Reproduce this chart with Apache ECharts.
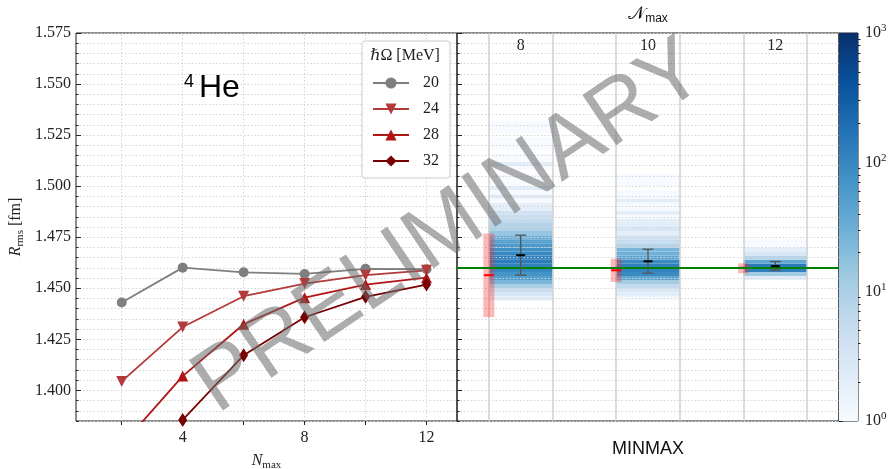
<!DOCTYPE html>
<html>
<head>
<meta charset="utf-8">
<script src="https://cdn.jsdelivr.net/npm/echarts@6/dist/echarts.min.js"></script>
<style>
  html, body { margin: 0; padding: 0; background: #fff; }
  #chart { width: 893px; height: 469px; }
</style>
</head>
<body>
<div id="chart"></div>
<script>
const SERIF = '"Liberation Serif", "DejaVu Serif", serif';
const SANS = '"Liberation Sans", Arial, sans-serif';

// ---- left panel: R_rms versus N_max for four oscillator frequencies ----
const nmax = [2, 4, 6, 8, 10, 12];
const hwNames = ['20', '24', '28', '32'];
const rms20 = [1.4430, 1.4601, 1.4578, 1.4570, 1.4595, 1.4593];
const rms24 = [1.4044, 1.4310, 1.4461, 1.4523, 1.4564, 1.4588];
const rms28 = [1.3732, 1.4070, 1.4324, 1.4454, 1.4518, 1.4552];
const rms32 = [1.3350, 1.3855, 1.4172, 1.4358, 1.4458, 1.4518];
const nmaxTickValues = [2, 4, 6, 8, 10, 12];
const nmaxLabelValues = [4, 8, 12];
const radiusMajorTicks = [1.400, 1.425, 1.450, 1.475, 1.500, 1.525, 1.550, 1.575];

// ---- right panel: MINMAX extrapolation per model space ----
const mmNmax = ['8', '10', '12'];
const mmSlot = [1, 3, 5];                       // slot centre on the panel axis
const slotEdges = [0.5, 1.5, 2.5, 3.5, 4.5, 5.5];
const refRadius = 1.4598;
const minmaxCenter = [1.4564, 1.4588, 1.4600];
const minmaxLow    = [1.4359, 1.4531, 1.4573];
const minmaxHigh   = [1.4768, 1.4645, 1.4622];
const fitCenter = [1.4662, 1.4632, 1.4608];
const fitLow    = [1.4564, 1.4574, 1.4588];
const fitHigh   = [1.4760, 1.4691, 1.4631];

// histograms of extrapolated radii (bin width 0.002 fm)
const binWidth = 0.002;
const histStart = [1.444, 1.444, 1.454];
const hist8 = [2, 3, 5, 10, 25, 50, 70, 100, 120, 130, 120, 100, 80, 60, 45, 30, 15, 9, 8, 6,
               5, 4, 2, 2, 1, 2, 1, 2, 1, 1, 1, 0, 1, 2, 1, 1, 0, 1, 1, 1, 0, 1, 1, 1, 0];
const hist10 = [1, 2, 3, 6, 12, 40, 90, 110, 120, 90, 40, 30, 25, 8, 5, 4, 2, 3, 2, 2,
                1, 2, 1, 1, 2, 1, 1, 0, 1, 1, 1];
const hist12 = [2, 12, 120, 140, 40, 8, 3, 2, 1, 1];
const histCounts = [hist8, hist10, hist12];

// colour bar
const countRange = [1, 1000];
const countMinorTicks = [2, 3, 4, 5, 6, 7, 8, 9, 20, 30, 40, 50, 60, 70, 80, 90,
                         200, 300, 400, 500, 600, 700, 800, 900];

const BLUES = ['#f7fbff', '#deebf7', '#c6dbef', '#9ecae1', '#6baed6',
               '#4292c6', '#2171b5', '#08519c', '#08306b'];

const histData = [];
histCounts.forEach((counts, g) => {
  counts.forEach((c, i) => {
    if (c > 0) {
      const lo = histStart[g] + i * binWidth;
      histData.push([mmSlot[g], lo, lo + binWidth, Math.log10(c), c]);
    }
  });
});

const isMajor = v => Math.abs(v / 0.025 - Math.round(v / 0.025)) < 1e-6;
const dotted = { color: '#d4d4d4', width: 1, type: [1.5, 2] };

const chart = echarts.init(document.getElementById('chart'), null, { renderer: 'canvas' });

// a line carries the legend entry; a scatter layer on top draws the solid markers
const lineSeries = (name, values, color, symbol, rotate) => ({
  name, type: 'line', xAxisIndex: 0, yAxisIndex: 0,
  data: nmax.map((n, i) => [n, values[i]]),
  symbol, symbolSize: 0.01, symbolRotate: rotate || 0,
  lineStyle: { color, width: 1.8 },
  itemStyle: { color },
  z: 4, clip: true, animation: false
});
const markerSeries = (values, color, symbol, size, rotate) => ({
  type: 'scatter', xAxisIndex: 0, yAxisIndex: 0,
  data: nmax.map((n, i) => [n, values[i]]),
  symbol, symbolSize: size, symbolRotate: rotate || 0,
  itemStyle: { color, opacity: 1 },
  z: 5, clip: true, animation: false, silent: true
});

const radiusAxis = (gridIndex, withLabels, z) => ({
  type: 'value', gridIndex, position: 'left', min: 1.385, max: 1.575, interval: 0.005,
  z,
  axisLine: { show: false },
  axisTick: { show: true, inside: true, length: 2.5, lineStyle: { color: '#222' } },
  axisLabel: {
    show: withLabels, fontFamily: SERIF, fontSize: 16, color: '#222', margin: 5,
    formatter: v => (isMajor(v) ? v.toFixed(3) : '')
  },
  splitLine: { show: true, lineStyle: dotted }
});

const majorTickAxis = (gridIndex, z) => ({
  type: 'value', gridIndex, position: 'left', min: 1.385, max: 1.575, z,
  axisLine: { show: false },
  axisTick: { show: true, inside: true, length: 5, customValues: radiusMajorTicks, lineStyle: { color: '#222' } },
  axisLabel: { show: false },
  splitLine: { show: false }
});

const plainMarkLine = (z, lineStyle, data) => ({
  z, symbol: 'none', silent: true, animation: false, label: { show: false }, lineStyle, data
});

const option = {
  backgroundColor: '#fff',
  animation: false,
  grid: [
    { left: 76, top: 33, width: 381, height: 388, outerBoundsMode: 'none', containLabel: false,
      show: true, borderColor: '#1a1a1a', borderWidth: 1 },
    { left: 457, top: 33, width: 382, height: 388, outerBoundsMode: 'none', containLabel: false,
      show: true, borderColor: '#1a1a1a', borderWidth: 1 },
    { left: 839, top: 33, width: 19, height: 388, outerBoundsMode: 'none', containLabel: false,
      show: true, borderColor: '#1a1a1a', borderWidth: 1 }
  ],
  xAxis: [
    {
      type: 'value', gridIndex: 0, min: 0.5, max: 13,
      axisLine: { show: false },
      axisTick: { show: true, length: 4, customValues: nmaxTickValues, lineStyle: { color: '#222' } },
      axisLabel: { customValues: nmaxLabelValues, fontFamily: SERIF, fontSize: 16, color: '#222', margin: 9 },
      splitLine: { show: false },
      name: '{it|N}{sub|max}', nameLocation: 'middle', nameGap: 30,
      nameTextStyle: {
        rich: {
          it: { fontFamily: SERIF, fontStyle: 'italic', fontSize: 16, color: '#222', lineHeight: 20 },
          sub: { fontFamily: SERIF, fontSize: 11, color: '#222', verticalAlign: 'bottom', lineHeight: 15 }
        }
      }
    },
    {
      type: 'value', gridIndex: 1, min: 0, max: 6,
      axisLine: { show: false }, axisTick: { show: false }, axisLabel: { show: false },
      splitLine: { show: false },
      name: 'MINMAX', nameLocation: 'middle', nameGap: 19,
      nameTextStyle: { fontFamily: SANS, fontSize: 18, color: '#111' }
    },
    {
      type: 'value', gridIndex: 1, position: 'top', min: 0, max: 6, interval: 1,
      axisLine: { show: false }, axisTick: { show: false },
      axisLabel: {
        inside: true, margin: 5, fontFamily: SERIF, fontSize: 16, color: '#222',
        formatter: v => { const k = mmSlot.indexOf(v); return k >= 0 ? mmNmax[k] : ''; }
      },
      splitLine: { show: false },
      name: '{cal|𝒩}{sub|max}', nameLocation: 'middle', nameGap: 8,
      nameTextStyle: {
        rich: {
          cal: { fontFamily: '"DejaVu Sans", "DejaVu Serif", serif', fontSize: 18, color: '#111', lineHeight: 22 },
          sub: { fontFamily: SANS, fontSize: 12, color: '#111', verticalAlign: 'bottom', lineHeight: 17 }
        }
      }
    },
    { type: 'value', gridIndex: 2, min: 0, max: 1, show: false }
  ],
  yAxis: [
    Object.assign(radiusAxis(0, true, 0), {
      name: '{it|R}{sub|rms}{n| [fm]}', nameLocation: 'middle', nameGap: 50, nameRotate: 90,
      nameTextStyle: {
        rich: {
          it: { fontFamily: SERIF, fontStyle: 'italic', fontSize: 16, color: '#222', lineHeight: 20 },
          sub: { fontFamily: SERIF, fontSize: 11, color: '#222', verticalAlign: 'bottom', lineHeight: 15 },
          n: { fontFamily: SERIF, fontSize: 16, color: '#222', lineHeight: 20 }
        }
      }
    }),
    majorTickAxis(0, 0),
    radiusAxis(1, false, 3),
    majorTickAxis(1, 3),
    {
      type: 'log', gridIndex: 2, position: 'right', min: countRange[0], max: countRange[1], logBase: 10,
      axisLine: { show: false },
      axisTick: { show: true, length: 4, lineStyle: { color: '#222' } },
      axisLabel: {
        margin: 7, color: '#222',
        formatter: v => '{b|10}{s|' + Math.round(Math.log10(v)) + '}',
        rich: {
          b: { fontFamily: SERIF, fontSize: 16, color: '#222', lineHeight: 20 },
          s: { fontFamily: SERIF, fontSize: 11, color: '#222', verticalAlign: 'top', lineHeight: 12 }
        }
      },
      splitLine: { show: false }
    },
    {
      type: 'log', gridIndex: 2, position: 'right', min: countRange[0], max: countRange[1], logBase: 10,
      axisLine: { show: false },
      axisTick: { show: true, length: 2.5, customValues: countMinorTicks, lineStyle: { color: '#222' } },
      axisLabel: { show: false },
      splitLine: { show: false }
    }
  ],
  visualMap: [{
    type: 'continuous', show: false, seriesIndex: 10, dimension: 3,
    min: 0, max: 3, inRange: { color: BLUES }
  }],
  legend: {
    data: hwNames, orient: 'vertical', left: 362, top: 41,
    padding: [34, 11, 9, 10], itemWidth: 36, itemHeight: 14, itemGap: 10,
    backgroundColor: 'rgba(255,255,255,0.85)', borderColor: '#cccccc', borderWidth: 1, borderRadius: 3,
    textStyle: { fontFamily: SERIF, fontSize: 16, color: '#222', padding: [0, 0, 0, 9] }
  },
  graphic: [
    { type: 'text', x: 405, y: 56, z: 50,
      style: { text: 'ℏΩ [MeV]', fontFamily: SERIF, fontSize: 16, fill: '#222', align: 'center', verticalAlign: 'middle' } },
    { type: 'text', x: 184, y: 73, z: 50,
      style: { text: '4', fontFamily: SANS, fontSize: 18, fill: '#000', align: 'left', verticalAlign: 'top' } },
    { type: 'text', x: 199, y: 72, z: 50,
      style: { text: 'He', fontFamily: SANS, fontSize: 32, fill: '#000', align: 'left', verticalAlign: 'top' } },
    { type: 'text', x: 450, y: 228, z: 100, rotation: 34 * Math.PI / 180,
      style: { text: 'PRELIMINARY', fontFamily: SANS, fontSize: 88, fill: 'rgba(105,105,105,0.55)',
               align: 'center', verticalAlign: 'middle' } }
  ],
  series: [
    // vertical grid of the left panel
    { type: 'line', xAxisIndex: 0, yAxisIndex: 0, data: [], z: 1, silent: true,
      markLine: plainMarkLine(1, dotted, nmaxTickValues.map(v => ({ xAxis: v }))) },
    lineSeries(hwNames[0], rms20, '#7f7f7f', 'circle'),
    lineSeries(hwNames[1], rms24, '#b33a3a', 'triangle', 180),
    lineSeries(hwNames[2], rms28, '#b01515', 'triangle'),
    lineSeries(hwNames[3], rms32, '#780000', 'diamond'),
    markerSeries(rms20, '#7f7f7f', 'circle', 10),
    markerSeries(rms24, '#b33a3a', 'triangle', 11, 180),
    markerSeries(rms28, '#b01515', 'triangle', 11),
    markerSeries(rms32, '#780000', 'diamond', [9, 14]),
    // colour bar
    { type: 'custom', xAxisIndex: 3, yAxisIndex: 4, data: [[0, countRange[0], countRange[1]]], silent: true,
      renderItem: (params, api) => {
        const p1 = api.coord([0, api.value(2)]);
        const p2 = api.coord([1, api.value(1)]);
        return { type: 'rect', shape: { x: p1[0], y: p1[1], width: p2[0] - p1[0], height: p2[1] - p1[1] },
                 style: { fill: new echarts.graphic.LinearGradient(0, 1, 0, 0,
                   BLUES.map((c, i) => ({ offset: i / (BLUES.length - 1), color: c }))) } };
      } },
    // histograms
    { type: 'custom', xAxisIndex: 1, yAxisIndex: 2, data: histData, z: 2, silent: true, clip: true,
      encode: { x: 0, y: [1, 2] },
      renderItem: (params, api) => {
        const xc = api.value(0);
        const p1 = api.coord([xc - 0.5, api.value(2)]);
        const p2 = api.coord([xc + 0.5, api.value(1)]);
        return { type: 'rect', shape: { x: p1[0], y: p1[1], width: p2[0] - p1[0], height: p2[1] - p1[1] },
                 style: { fill: api.visual('color') } };
      } },
    // slot boundaries
    { type: 'line', xAxisIndex: 1, yAxisIndex: 2, data: [], z: 3, silent: true,
      markLine: plainMarkLine(3, { color: '#cfcfcf', width: 1.5, type: 'solid' },
                              slotEdges.map(v => ({ xAxis: v }))) },
    // MINMAX bands
    { type: 'custom', xAxisIndex: 1, yAxisIndex: 2, z: 4, silent: true, clip: true,
      data: mmSlot.map((s, g) => [s - 0.5, minmaxLow[g], minmaxHigh[g], minmaxCenter[g]]),
      renderItem: (params, api) => {
        const top = api.coord([api.value(0), api.value(2)]);
        const bot = api.coord([api.value(0), api.value(1)]);
        const mid = api.coord([api.value(0), api.value(3)]);
        return { type: 'group', children: [
          { type: 'rect', shape: { x: top[0] - 5.5, y: top[1], width: 11, height: bot[1] - top[1] },
            style: { fill: 'rgba(255,40,40,0.33)' } },
          { type: 'line', shape: { x1: mid[0] - 5, y1: mid[1], x2: mid[0] + 5, y2: mid[1] },
            style: { stroke: '#ff0000', lineWidth: 2 }, z2: 10 }
        ] };
      } },
    // reference radius
    { type: 'line', xAxisIndex: 1, yAxisIndex: 2, data: [], z: 5, silent: true,
      markLine: plainMarkLine(5, { color: '#008000', width: 2, type: 'solid' }, [{ yAxis: refRadius }]) },
    // fit results with uncertainty
    { type: 'custom', xAxisIndex: 1, yAxisIndex: 2, z: 6, silent: true, clip: true,
      data: mmSlot.map((s, g) => [s, fitLow[g], fitHigh[g], fitCenter[g]]),
      renderItem: (params, api) => {
        const top = api.coord([api.value(0), api.value(2)]);
        const bot = api.coord([api.value(0), api.value(1)]);
        const mid = api.coord([api.value(0), api.value(3)]);
        const x = top[0];
        const grey = { stroke: '#555', lineWidth: 1.3 };
        return { type: 'group', children: [
          { type: 'line', shape: { x1: x, y1: top[1], x2: x, y2: bot[1] }, style: grey },
          { type: 'line', shape: { x1: x - 5.5, y1: top[1], x2: x + 5.5, y2: top[1] }, style: grey },
          { type: 'line', shape: { x1: x - 5.5, y1: bot[1], x2: x + 5.5, y2: bot[1] }, style: grey },
          { type: 'line', shape: { x1: x - 4.5, y1: mid[1], x2: x + 4.5, y2: mid[1] },
            style: { stroke: '#000', lineWidth: 2 } }
        ] };
      } }
  ]
};

chart.setOption(option);
</script>
</body>
</html>
